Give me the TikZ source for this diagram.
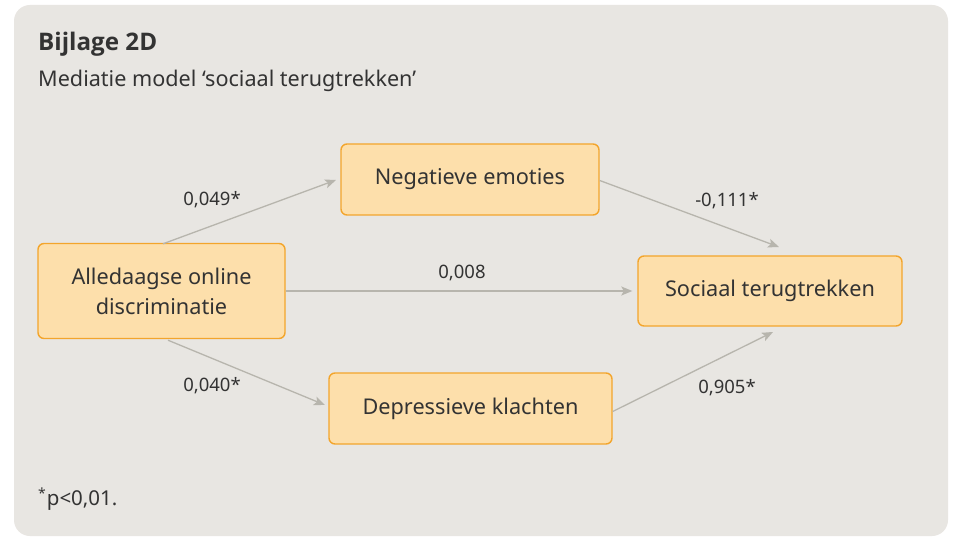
\documentclass[tikz,border=0pt]{standalone}
\usepackage{fontspec}
\setmainfont{Noto Sans}
\newfontfamily\titlefont{Open Sans}
\usetikzlibrary{arrows.meta}
\definecolor{panel}{HTML}{E8E6E2}
\definecolor{boxfill}{HTML}{FDDFAB}
\definecolor{boxline}{HTML}{F3A52C}
\definecolor{arrowc}{HTML}{B7B5AD}
\definecolor{txt}{HTML}{333333}
\tikzset{
  varbox/.style={draw=boxline, fill=boxfill, line width=1.4pt, rounded corners=6pt,
    text=txt, font=\fontsize{21.7}{30}\selectfont, align=center, inner sep=0pt},
  link/.style={draw=arrowc, line width=1.3pt, -{Stealth[length=11pt,width=9pt,inset=2.5pt]}},
  coef/.style={text=txt, font=\fontsize{18.5}{20}\selectfont, inner sep=0pt}
}
\begin{document}
\begin{tikzpicture}[x=1pt,y=-1pt]
\useasboundingbox (0,0) rectangle (955,537);
\fill[white] (0,0) rectangle (955,537);
\fill[panel, rounded corners=16pt] (14,5) rectangle (948,536);
% title
\node[anchor=base west, text=txt, font=\titlefont\fontsize{24.2}{28}\selectfont\bfseries, inner sep=0pt] (title) at (38,51) {Bijlage 2D};
\node[anchor=base west, text=txt, font=\fontsize{21.6}{24}\selectfont, inner sep=0pt] (sub) at (38,87) {Mediatie model ‘sociaal terugtrekken’};
% nodes
\node[varbox, minimum width=247pt, minimum height=95pt] (a) at (161.5,291) {Alledaagse online\\discriminatie};
\node[varbox, minimum width=258pt, minimum height=71pt] (b) at (470,179.5) {Negatieve emoties};
\node[varbox, minimum width=264pt, minimum height=70pt] (s) at (770,291) {Sociaal terugtrekken};
\node[varbox, minimum width=283pt, minimum height=71pt] (d) at (470.5,408.5) {Depressieve klachten};
% free ends
\coordinate (t1) at (336,180);
\coordinate (t2) at (779,247);
\coordinate (t4) at (325,405);
\coordinate (t5) at (773,332);
% connectors
\draw[link] ([shift={(1.5pt,-1pt)}]a.north) -- (t1);
\draw[link] ([yshift=-1pt]b.east) -- (t2);
\draw[link, shorten >=5pt] (a.east) -- (a.east -| s.west);
\draw[link] ([shift={(6.5pt,-1pt)}]a.south) -- (t4);
\draw[link] ([yshift=-3pt]d.east) -- (t5);
% coefficients
\node[coef] (c1) at (212,200) {0,049*};
\node[coef] (c2) at (727,201) {-0,111*};
\node[coef] (c3) at (462,273) {0,008};
\node[coef] (c4) at (212,386) {0,040*};
\node[coef] (c5) at (727,388) {0,905*};
% footnote
\node[anchor=base west, text=txt, font=\fontsize{20.5}{24}\selectfont, inner sep=0pt] (foot) at (38,505) {\raisebox{0.3em}{\fontsize{14}{16}\selectfont*}\kern1pt p<0,01.};
\end{tikzpicture}
\end{document}
